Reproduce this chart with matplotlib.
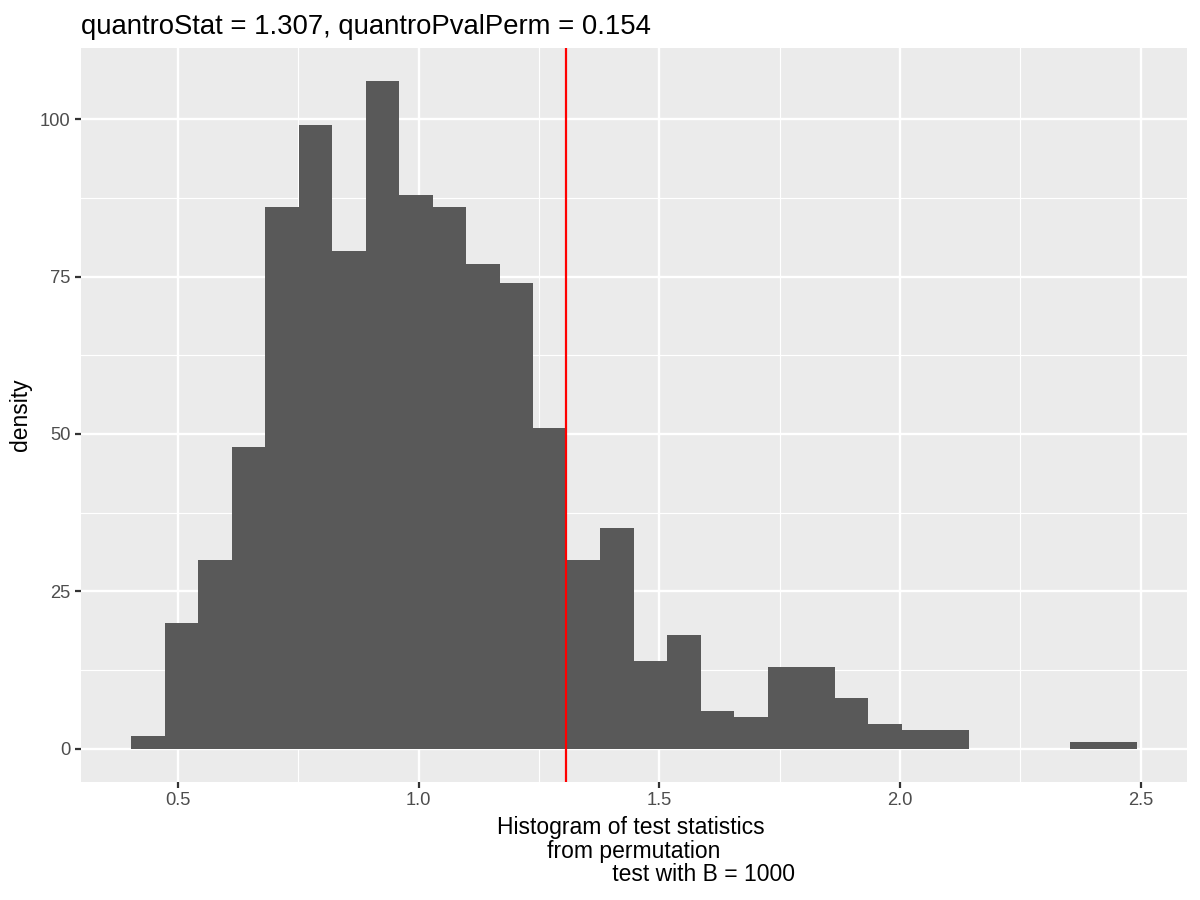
import matplotlib.pyplot as plt
import numpy as np

# histogram of permutation test statistics (B = 1000), 30 bins
counts = [2, 20, 30, 48, 86, 99, 79, 106, 88, 86, 77, 74, 51, 30, 35,
          14, 18, 6, 5, 13, 13, 8, 4, 3, 3, 0, 0, 0, 1, 1]
bin_lo = 0.4025
bin_hi = 2.4917
quantro_stat = 1.307
pval_perm = 0.154

x_ticks = [0.5, 1.0, 1.5, 2.0, 2.5]
y_ticks = [0, 25, 50, 75, 100]

plt.rcParams['font.family'] = ['Liberation Sans', 'DejaVu Sans']

edges = np.linspace(bin_lo, bin_hi, len(counts) + 1)

fig = plt.figure(figsize=(12, 9), dpi=100)
ax = fig.add_axes([0.0675, 0.131, 0.9215, 0.8157])
ax.set_facecolor('#EBEBEB')

# ggplot-like grid
x_minor = [0.75, 1.25, 1.75, 2.25]
y_minor = [12.5, 37.5, 62.5, 87.5]
for v in x_minor:
    ax.axvline(v, color='white', lw=0.85, zorder=0)
for v in y_minor:
    ax.axhline(v, color='white', lw=0.85, zorder=0)
for v in x_ticks:
    ax.axvline(v, color='white', lw=1.7, zorder=0)
for v in y_ticks:
    ax.axhline(v, color='white', lw=1.7, zorder=0)

ax.bar(edges[:-1], counts, width=np.diff(edges), align='edge',
       color='#595959', linewidth=0, zorder=2)
ax.axvline(quantro_stat, color='#FF0000', lw=1.6, zorder=3)

span = bin_hi - bin_lo
ax.set_xlim(bin_lo - 0.05 * span, bin_hi + 0.05 * span)
ymax = max(counts)
ax.set_ylim(-0.05 * ymax, ymax * 1.05)

ax.set_xticks(x_ticks)
ax.set_xticklabels(['0.5', '1.0', '1.5', '2.0', '2.5'])
ax.set_yticks(y_ticks)
ax.tick_params(axis='both', colors='#333333', length=4.1, width=1.6,
               labelsize=13.2, labelcolor='#4D4D4D', pad=3.3)
for s in ax.spines.values():
    s.set_visible(False)

ax.set_ylabel('density', fontsize=16.5, labelpad=6)
ax.set_xlabel('Histogram of test statistics \nfrom permutation\n'
              + ' ' * 22 + 'test with B = 1000',
              fontsize=16.5, labelpad=5, linespacing=1.03)
ax.set_title(f'quantroStat = {quantro_stat}, quantroPvalPerm = {pval_perm}',
             fontsize=19.8, loc='left', pad=10)

fig.savefig('out.png', dpi=100)
